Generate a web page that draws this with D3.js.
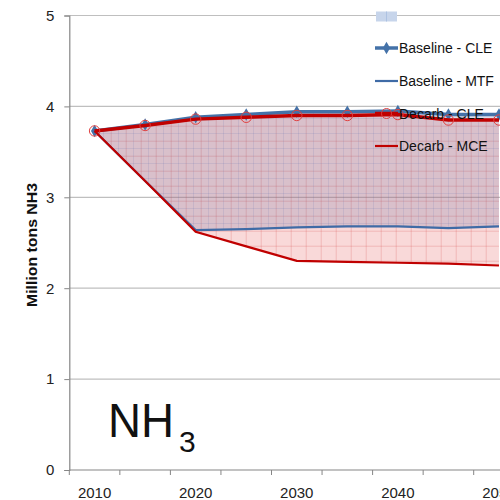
<!DOCTYPE html>
<html><head><meta charset="utf-8">
<script src="https://cdn.jsdelivr.net/npm/d3@7"></script>
<style>body{margin:0;background:#fff}svg{display:block}</style>
</head><body>
<div id="chart"></div>
<script>
const years = [2010, 2015, 2020, 2025, 2030, 2035, 2040, 2045, 2050];
const xTickLabels = [2010, 2020, 2030, 2040, 2050];
const yTicks = [0, 1, 2, 3, 4, 5];
const baselineCLE = [3.73, 3.80, 3.88, 3.91, 3.94, 3.94, 3.95, 3.91, 3.91];
const baselineMTF = [3.73, 3.18, 2.64, 2.65, 2.67, 2.68, 2.68, 2.66, 2.68];
const decarbCLE   = [3.73, 3.79, 3.86, 3.88, 3.90, 3.90, 3.91, 3.85, 3.85];
const decarbMCE   = [3.73, 3.18, 2.62, 2.46, 2.30, 2.29, 2.28, 2.27, 2.25];
const seriesNames = ["Baseline - CLE", "Baseline - MTF", "Decarb - CLE", "Decarb - MCE"];

(function () {
const W = 500, H = 500;
const svg = d3.select("#chart").append("svg").attr("width", W).attr("height", H);

const mLeft = 69.3, mTop = 15.5, mBottom = 470;
const x = d3.scaleBand().domain(years).range([mLeft, mLeft + years.length * 50.55]).paddingInner(0).paddingOuter(0);
const y = d3.scaleLinear().domain([0, 5]).range([mBottom, mTop]);
const cx = d => x(d) + x.bandwidth() / 2;

const defs = svg.append("defs");
function pat(id, color, off) {
  const p = defs.append("pattern").attr("id", id).attr("patternUnits", "userSpaceOnUse")
    .attr("width", 15).attr("height", 15).attr("x", off).attr("y", off);
  p.append("line").attr("x1", 0).attr("x2", 15).attr("y1", 0.5).attr("y2", 0.5).attr("stroke", color).attr("stroke-width", 1);
  p.append("line").attr("x1", 0.5).attr("x2", 0.5).attr("y1", 0).attr("y2", 15).attr("stroke", color).attr("stroke-width", 1);
}
pat("pRed", "rgba(215,80,80,0.25)", 5.7);
pat("pBlue", "rgba(80,100,170,0.13)", 13);

const grid = svg.append("g");
yTicks.filter(t => t > 0).forEach(t => {
  grid.append("line").attr("x1", mLeft).attr("x2", W).attr("y1", y(t)).attr("y2", y(t))
    .attr("stroke", "#bfbfbf").attr("stroke-width", 1.2);
});

const yAxis = svg.append("g").attr("transform", `translate(${mLeft},0)`)
  .call(d3.axisLeft(y).tickValues(yTicks).tickSize(5).tickPadding(10).tickFormat(d3.format("d")));
yAxis.select(".domain").attr("stroke", "#868686").attr("stroke-width", 1.2);
yAxis.selectAll(".tick line").attr("stroke", "#868686");
yAxis.selectAll("text").attr("font-family", "Liberation Sans, Arial, sans-serif").attr("font-size", 15).attr("fill", "#222");

const xAxis = svg.append("g").attr("transform", `translate(0,${mBottom})`);
xAxis.append("line").attr("x1", mLeft).attr("x2", W).attr("y1", 0).attr("y2", 0).attr("stroke", "#868686").attr("stroke-width", 1.2);
const bounds = years.map(d => x(d)).concat([x(years[years.length - 1]) + x.bandwidth()]);
xAxis.selectAll(".xt").data(bounds).enter().append("line")
  .attr("x1", d => d).attr("x2", d => d).attr("y1", 0).attr("y2", 5).attr("stroke", "#868686");
xAxis.selectAll(".xl").data(xTickLabels).enter().append("text")
  .attr("x", d => cx(d)).attr("y", 28).attr("text-anchor", "middle")
  .attr("font-family", "Liberation Sans, Arial, sans-serif").attr("font-size", 15).attr("fill", "#222")
  .text(d => d);

const idx = d3.range(years.length);
const areaGen = (hi, lo) => d3.area().x(i => cx(years[i])).y0(i => y(lo[i])).y1(i => y(hi[i]));
const fills = svg.append("g");
fills.append("path").attr("d", areaGen(decarbCLE, decarbMCE)(idx)).attr("fill", "rgba(232,115,115,0.27)");
fills.append("path").attr("d", areaGen(decarbCLE, decarbMCE)(idx)).attr("fill", "url(#pRed)");
fills.append("path").attr("d", areaGen(baselineCLE, baselineMTF)(idx)).attr("fill", "rgba(90,95,150,0.2)");
fills.append("path").attr("d", areaGen(baselineCLE, baselineMTF)(idx)).attr("fill", "url(#pBlue)");

const lineGen = vals => d3.line().x(i => cx(years[i])).y(i => y(vals[i]))(idx);
const blue = "#4472a8", red = "#c00000";
svg.append("path").attr("d", lineGen(baselineCLE)).attr("fill", "none").attr("stroke", blue).attr("stroke-width", 3.5);
svg.selectAll(".dia").data(idx).enter().append("path")
  .attr("d", d3.symbol().type(d3.symbolDiamond).size(45))
  .attr("transform", i => `translate(${cx(years[i])},${y(baselineCLE[i])})`).attr("fill", blue);
svg.append("path").attr("d", lineGen(baselineMTF)).attr("fill", "none").attr("stroke", "#3f6ba6").attr("stroke-width", 2.2);
svg.append("path").attr("d", lineGen(decarbCLE)).attr("fill", "none").attr("stroke", red).attr("stroke-width", 3.5);
svg.selectAll(".circ").data(idx).enter().append("circle")
  .attr("cx", i => cx(years[i])).attr("cy", i => y(decarbCLE[i])).attr("r", 5.2)
  .attr("fill", "none").attr("stroke", "#e04040").attr("stroke-width", 1);
svg.append("path").attr("d", lineGen(decarbMCE)).attr("fill", "none").attr("stroke", red).attr("stroke-width", 2.2);

const lg = svg.append("g");
lg.append("rect").attr("x", 376).attr("y", 11.5).attr("width", 21).attr("height", 10).attr("fill", "#c7d5eb");
lg.append("line").attr("x1", 386.5).attr("x2", 386.5).attr("y1", 11.5).attr("y2", 21.5).attr("stroke", "#adc2e2");
const legY = [48, 81, 113.5, 146];
const legStyles = [
  {c: blue, w: 3.5, m: "dia"}, {c: "#3f6ba6", w: 2.2}, {c: red, w: 3.5, m: "circ"}, {c: red, w: 2.2}
];
seriesNames.forEach((n, k) => {
  const s = legStyles[k];
  lg.append("line").attr("x1", 375).attr("x2", 398).attr("y1", legY[k]).attr("y2", legY[k]).attr("stroke", s.c).attr("stroke-width", s.w);
  if (s.m === "dia") lg.append("path").attr("d", d3.symbol().type(d3.symbolDiamond).size(45)).attr("transform", `translate(386.5,${legY[k]})`).attr("fill", blue);
  if (s.m === "circ") lg.append("circle").attr("cx", 386.5).attr("cy", legY[k]).attr("r", 5).attr("fill", "none").attr("stroke", "#e04040");
  lg.append("text").attr("x", 399).attr("y", legY[k]).attr("dy", "0.36em")
    .attr("font-family", "Liberation Sans, Arial, sans-serif").attr("font-size", 14).attr("fill", "#111").text(n);
});

svg.append("text").attr("transform", "translate(37,245) rotate(-90)").attr("text-anchor", "middle")
  .attr("font-family", "Liberation Sans, Arial, sans-serif").attr("font-weight", "bold").attr("font-size", 15)
  .attr("textLength", 124).attr("lengthAdjust", "spacingAndGlyphs")
  .attr("fill", "#111").text("Million tons NH3");

const nh = svg.append("text").attr("font-family", "Liberation Sans, Arial, sans-serif").attr("fill", "#111");
nh.append("tspan").attr("x", 108).attr("y", 437).attr("font-size", 48).attr("textLength", 66).attr("lengthAdjust", "spacingAndGlyphs").text("NH");
nh.append("tspan").attr("x", 179).attr("y", 451.5).attr("font-size", 30).text("3");
})();
</script>
</body></html>
